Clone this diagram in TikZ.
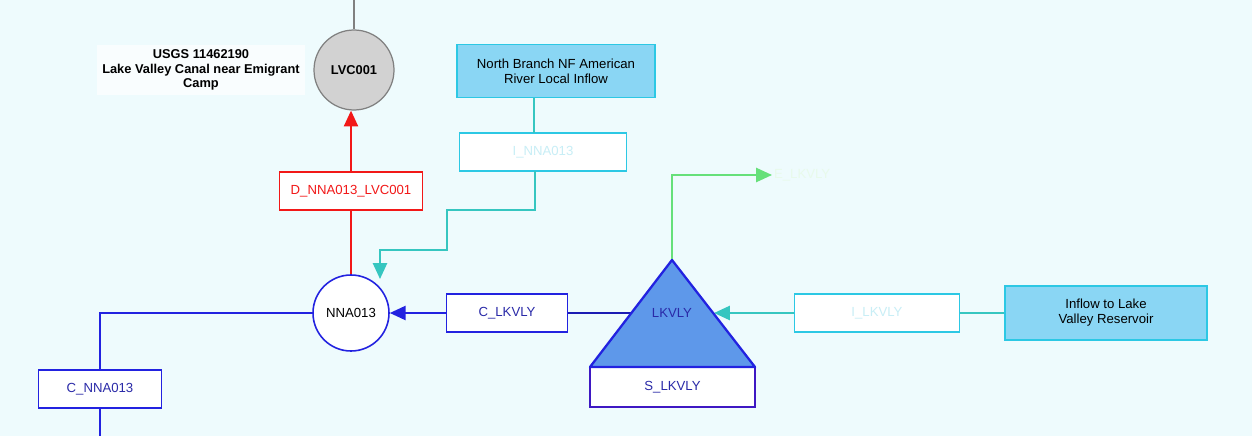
\documentclass[tikz,border=0pt]{standalone}
\usepackage{fontspec}
\setmainfont{Liberation Sans}
\usetikzlibrary{arrows.meta}
\definecolor{bg}{HTML}{EEFBFD}
\definecolor{skyf}{HTML}{8AD6F4}
\definecolor{cyanb}{HTML}{2CC8E4}
\definecolor{tealc}{HTML}{36C6C0}
\definecolor{bluel}{HTML}{2222E0}
\definecolor{bluet}{HTML}{2A2AA8}
\definecolor{redc}{HTML}{F21818}
\definecolor{greenc}{HTML}{66E07A}
\definecolor{trif}{HTML}{5E98EA}
\definecolor{faint}{HTML}{C8EEF6}
\begin{document}
\begin{tikzpicture}[x=0.02cm,y=-0.02cm,
  font=\fontsize{7.5}{8.6}\selectfont,
  arcbox/.style={draw,fill=white,minimum width=#1,minimum height=38*0.02cm,inner sep=0pt,line width=0.7pt},
  inflow/.style={draw=cyanb,fill=skyf,line width=0.9pt,align=center,inner sep=0pt},
  conn/.style={line width=1.2pt},
  tip/.style={-{Triangle[length=9pt,width=8pt]}}
]
\fill[bg] (0,0) rectangle (1252,436);
\useasboundingbox (0,0) rectangle (1252,436);
% nodes
\node[circle,draw=gray,fill=gray!35,line width=0.7pt,minimum size=80*0.02cm,inner sep=0pt,font=\fontsize{7.3}{8}\selectfont\bfseries] (lvc) at (354,70) {LVC001};
\coordinate (top) at (354,0);
\node[fill=white,fill opacity=0.7,text opacity=1,align=center,font=\fontsize{7.3}{8.2}\selectfont\bfseries,inner sep=3pt] (usgs) at (201,70) {USGS 11462190\\Lake Valley Canal near Emigrant\\Camp};
\node[circle,draw=bluel,fill=white,line width=0.9pt,minimum size=76*0.02cm,inner sep=0pt] (nna) at (351,313) {NNA013};
\node[arcbox=143*0.02cm,draw=redc,text=redc] (dnna) at (351,191) {D\_NNA013\_LVC001};
\node[inflow,minimum width=198*0.02cm,minimum height=53*0.02cm] (nb) at (556,71) {North Branch NF American\\River Local Inflow};
\node[arcbox=167*0.02cm,draw=cyanb,text=faint] (inna) at (543,152) {I\_NNA013};
\node[arcbox=121*0.02cm,draw=bluel,text=bluet] (clk) at (507,313) {C\_LKVLY};
\coordinate (apex) at (672,260);
\coordinate (bl) at (590,367);
\coordinate (br) at (755,367);
\coordinate (tl) at (632,313);
\coordinate (tr) at (714,313);
\node[arcbox=165*0.02cm,draw=bluel!70!violet,text=bluet,minimum height=40*0.02cm] (slk) at (672.5,387) {S\_LKVLY};
\node[text=white!85!greenc,anchor=west,inner sep=1pt] (elk) at (772,175) {E\_LKVLY};
\node[arcbox=165*0.02cm,draw=cyanb,text=faint] (ilk) at (877,313) {I\_LKVLY};
\node[inflow,minimum width=202*0.02cm,minimum height=54*0.02cm] (inlk) at (1106,313) {Inflow to Lake\\Valley Reservoir};
\node[arcbox=123*0.02cm,draw=bluel,text=bluet] (cnna) at (100,389) {C\_NNA013};
\coordinate (bot) at (100,436);
% connectors
\draw[gray,line width=1pt] (top) -- (lvc.north);
\draw[conn,redc] (nna.north) -- (dnna.south);
\draw[conn,redc,tip] (dnna.north) -- (dnna.north |- lvc.south);
\draw[tealc,line width=1pt] (nb.south -| inna.north) ++(-9,0) -- ++(0,35);
\draw[conn,tealc,tip] (535,171) |- (447,210) |- (380,250) -- (380,279);
\draw[conn,greenc,tip] (apex) |- (elk.west);
\draw[conn,bluel!80!black] (tl) -- (clk.east);
\draw[conn,bluel,tip] (clk.west) -- (nna.east);
\draw[conn,tealc,tip] (ilk.west) -- (tr);
\draw[conn,tealc] (inlk.west) -- (ilk.east);
\draw[conn,bluel] (nna.west) -| (cnna.north);
\draw[conn,bluel] (cnna.south) -- (bot);
% reservoir triangle
\draw[bluel,fill=trif,line width=1.3pt,line join=round] (bl) -- (apex) -- (br) -- cycle;
\node[text=bluet] (lk) at (672,313) {LKVLY};
\end{tikzpicture}
\end{document}
